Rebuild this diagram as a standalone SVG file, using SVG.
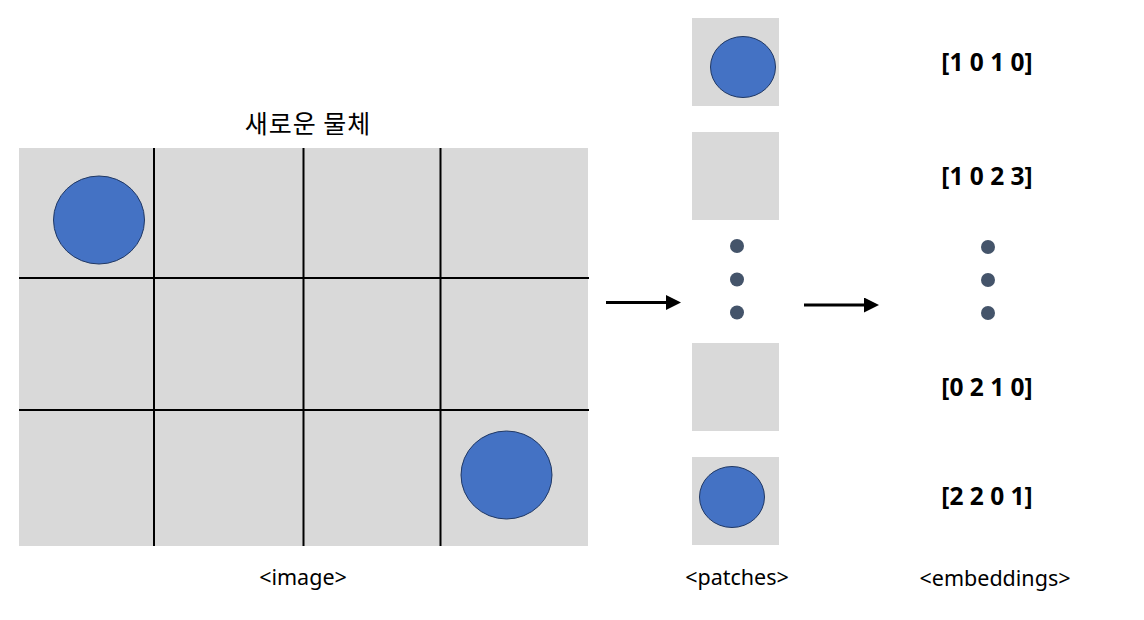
<svg xmlns="http://www.w3.org/2000/svg" width="1144" height="620" viewBox="0 0 1144 620">
<defs>
<style>
.bg{fill:#D9D9D9}
.grid{stroke:#000;stroke-width:2}
.obj{fill:#4472C4;stroke:#203864;stroke-width:1}
.dot{fill:#44546A}
.title{font-family:"Noto Sans CJK KR","Noto Sans",sans-serif;font-size:25px;letter-spacing:1px;fill:#000;text-anchor:middle}
.lbl{font-family:"Noto Sans","Noto Sans CJK KR",sans-serif;font-size:21.5px;fill:#000;text-anchor:middle}
.emb{font-family:"Noto Sans","Liberation Sans",sans-serif;font-size:24.5px;font-weight:bold;fill:#000;text-anchor:middle}
.arrow{stroke:#000;stroke-width:3;fill:none;marker-end:url(#ah)}
</style>
<marker id="ah" markerWidth="5" markerHeight="5" refX="0" refY="2.5" orient="auto" markerUnits="strokeWidth" viewBox="0 0 5 5">
<path d="M0,0 L5,2.5 L0,5 Z" fill="#000"/>
</marker>
</defs>
<rect width="1144" height="620" fill="#fff"/>

<g id="image">
<text class="title" x="308" y="133">새로운 물체</text>
<rect class="bg" x="19" y="148" width="569" height="398"/>
<line class="grid" x1="154" y1="148" x2="154" y2="546"/>
<line class="grid" x1="303.5" y1="148" x2="303.5" y2="546"/>
<line class="grid" x1="440.5" y1="148" x2="440.5" y2="546"/>
<line class="grid" x1="19" y1="278" x2="589" y2="278"/>
<line class="grid" x1="19" y1="410" x2="589" y2="410"/>
<ellipse class="obj" cx="99" cy="220" rx="45.5" ry="44"/>
<ellipse class="obj" cx="506.5" cy="475" rx="45.5" ry="44"/>
<text class="lbl" x="303" y="585">&lt;image&gt;</text>
</g>

<g id="patches">
<g id="patch1">
<rect class="bg" x="692" y="18" width="87" height="88"/>
<ellipse class="obj" cx="743" cy="67" rx="32.5" ry="30.5"/>
</g>
<g id="patch2">
<rect class="bg" x="692" y="132" width="87" height="88"/>
</g>
<g id="patch-dots">
<circle class="dot" cx="737" cy="246" r="7"/>
<circle class="dot" cx="737" cy="279.5" r="7"/>
<circle class="dot" cx="737" cy="312.5" r="7"/>
</g>
<g id="patch3">
<rect class="bg" x="692" y="343" width="87" height="88"/>
</g>
<g id="patch4">
<rect class="bg" x="692" y="457" width="87" height="88"/>
<ellipse class="obj" cx="732" cy="497" rx="32.5" ry="30.5"/>
</g>
<text class="lbl" x="737" y="585">&lt;patches&gt;</text>
</g>

<g id="embeddings">
<text class="emb" x="987" y="71">[1 0 1 0]</text>
<text class="emb" x="987" y="185">[1 0 2 3]</text>
<g id="emb-dots">
<circle class="dot" cx="988" cy="247" r="7"/>
<circle class="dot" cx="988" cy="280" r="7"/>
<circle class="dot" cx="988" cy="313" r="7"/>
</g>
<text class="emb" x="987" y="396">[0 2 1 0]</text>
<text class="emb" x="987" y="505">[2 2 0 1]</text>
<text class="lbl" x="995" y="586">&lt;embeddings&gt;</text>
</g>

<g id="connectors">
<line class="arrow" x1="606" y1="302.5" x2="666" y2="302.5"/>
<line class="arrow" x1="804" y1="305" x2="864" y2="305"/>
</g>
</svg>
